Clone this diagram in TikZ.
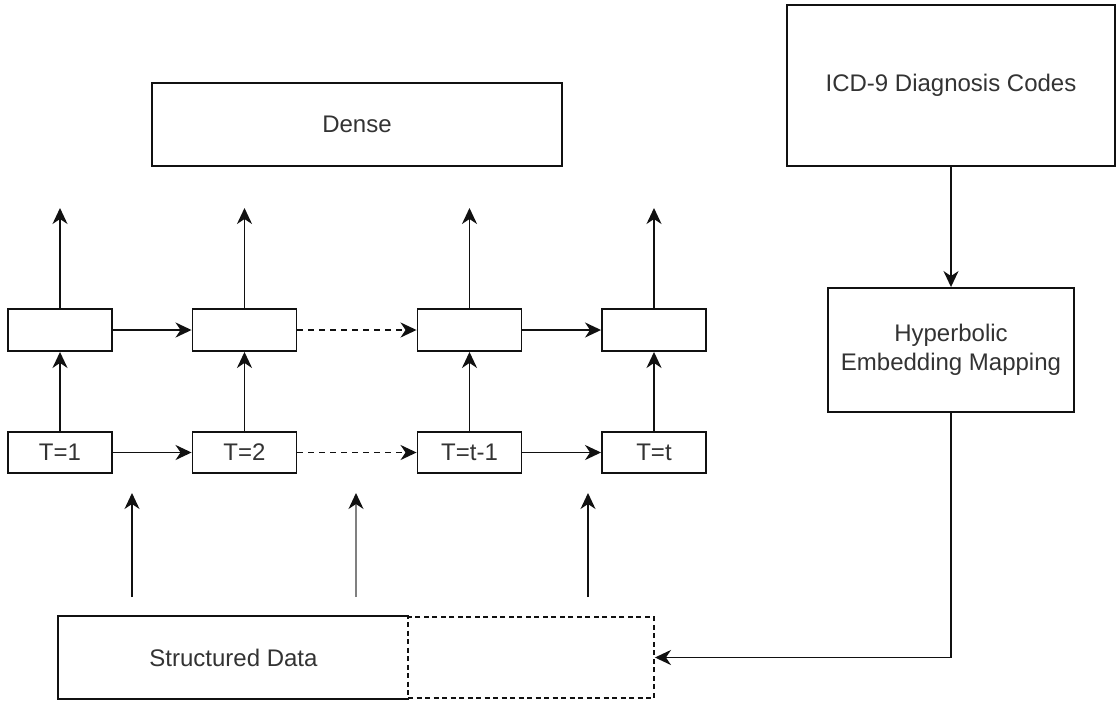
\documentclass[tikz,border=0pt]{standalone}
\usepackage{fontspec}
\setmainfont{Liberation Sans}
\usetikzlibrary{arrows.meta}
\definecolor{txt}{HTML}{333333}
\definecolor{ln}{HTML}{111111}
\begin{document}
\begin{tikzpicture}[x=1pt,y=-1pt,
  box/.style={draw=ln,line width=1.9pt,rectangle,inner sep=0pt,fill=white,
    text=txt,font=\fontsize{24}{29}\selectfont,align=center},
  dbox/.style={box,dash pattern=on 5pt off 3.5pt},
  arr/.style={draw=ln,line width=1.9pt,-{Stealth[length=16pt,width=15pt,inset=5pt]}},
  darr/.style={arr,dash pattern=on 6pt off 5pt},
  inarr/.style={draw=ln,line width=1.5pt,-{Stealth[length=16pt,width=15pt,inset=5pt,color=ln]}}
]
\useasboundingbox (0,0) rectangle (1119,702);
\fill[white] (0,0) rectangle (1119,702);

% boxes
\node[box,minimum width=410pt,minimum height=83pt] (dense) at (357,124.5) {Dense};
\node[box,minimum width=328pt,minimum height=161pt] (icd) at (951,85.5) {ICD-9 Diagnosis Codes};
\node[box,minimum width=246pt,minimum height=124pt] (hyp) at (951,350) {Hyperbolic\\Embedding Mapping};

\foreach \n/\x in {1/60,2/244.5,3/469.5,4/654}{
  \node[box,minimum width=104pt,minimum height=42pt] (h\n) at (\x,330) {};
  \coordinate (o\n) at (\x,208);
}
\node[box,minimum width=104pt,minimum height=41pt] (t1) at (60,452.5) {T=1};
\node[box,minimum width=104pt,minimum height=41pt] (t2) at (244.5,452.5) {T=2};
\node[box,minimum width=104pt,minimum height=41pt] (t3) at (469.5,452.5) {T=t-1};
\node[box,minimum width=104pt,minimum height=41pt] (t4) at (654,452.5) {T=t};

% structured data
\node[box,draw=none,minimum width=349pt,minimum height=81pt] (sd) at (233.5,657.5) {Structured Data};
\draw[ln,line width=1.9pt] (sd.north east) -- (sd.north west) -- (sd.south west) -- (sd.south east);
\node[dbox,fill=none,minimum width=246pt,minimum height=81pt] (ext) at (531,657.5) {};

% recurrent connections
\draw[arr] (h1.east) -- (h2.west);
\draw[darr] (h2.east) -- (h3.west);
\draw[arr] (h3.east) -- (h4.west);
\draw[arr] (t1.east) -- (t2.west);
\draw[darr] (t2.east) -- (t3.west);
\draw[arr] (t3.east) -- (t4.west);

\foreach \n in {1,2,3,4}{
  \draw[arr] (t\n.north) -- (h\n.south);
  \draw[arr] (h\n.north) -- (o\n);
}

% inputs
\coordinate (ia1) at (132,597); \coordinate (ib1) at (132,493);
\coordinate (ia2) at (356,597); \coordinate (ib2) at (356,493);
\coordinate (ia3) at (588,597); \coordinate (ib3) at (588,493);
\draw[inarr] (ia1) -- (ib1);
\draw[inarr,draw=gray] (ia2) -- (ib2);
\draw[inarr] (ia3) -- (ib3);

% right column
\draw[arr] (icd.south) -- (hyp.north);
\draw[arr] (hyp.south) |- (ext.east);
\end{tikzpicture}
\end{document}
